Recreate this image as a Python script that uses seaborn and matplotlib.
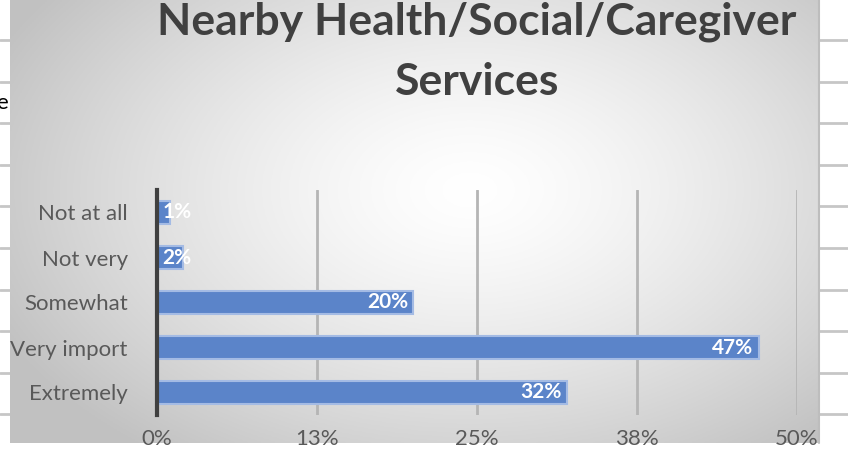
import numpy as np
import pandas as pd
import matplotlib
matplotlib.use("Agg")
import matplotlib.pyplot as plt
import seaborn as sns

# data
categories = ["Not at all", "Not very", "Somewhat", "Very import", "Extremely"]
values = [1, 2, 20, 47, 32]
tick_pos = [0, 12.5, 25, 37.5, 50]
tick_labels = ["0%", "13%", "25%", "38%", "50%"]
title = "Nearby Health/Social/Caregiver\nServices"

sns.set_theme(style="white")
plt.rcParams["font.family"] = ["Lato", "DejaVu Sans"]

W, H = 848, 450
fig = plt.figure(figsize=(W / 100, H / 100), dpi=100)

# spreadsheet behind the chart + gradient chart area
bg = fig.add_axes([0, 0, 1, 1])
bg.set_xlim(0, W)
bg.set_ylim(H, 0)
bg.axis("off")
for y in np.arange(40, 420, 41.6):
    bg.plot([0, W], [y, y], color="#c6c6c6", lw=2, zorder=0)
bg.text(8, 103, "e", ha="right", va="center", fontsize=16, color="black", zorder=0)

x0, x1, y0, y1 = 10, 819, 0, 443
gx, gy = np.meshgrid(np.linspace(x0, x1, 400), np.linspace(y0, y1, 220))
r = np.sqrt(((gx - 470) / 520) ** 2 + ((gy - 190) / 330) ** 2)
shade = 1 - 0.24 * np.clip(r, 0, 1) ** 1.4
bg.imshow(np.dstack([shade] * 3), extent=[x0, x1, y1, y0], aspect="auto", zorder=1)
bg.plot([x1, x1], [y0, y1], color="#bdbdbd", lw=1.5, zorder=2)

fig.text(477 / W, 1 - 52 / H, title, ha="center", va="center", fontsize=32,
         fontweight="bold", color="#404040", linespacing=1.6)

# chart
ax = fig.add_axes([157 / W, 1 - 415 / H, 640 / W, 225 / H])
ax.patch.set_alpha(0)
df = pd.DataFrame({"category": categories, "value": values})
sns.barplot(data=df, x="value", y="category", orient="h", color="#5b84c9",
            saturation=1, width=0.53, edgecolor="#a4bbe4", linewidth=1.5, ax=ax,
            zorder=3)
ax.set_xlim(0, 50)
ax.set_xticks(tick_pos)
ax.set_xticklabels(tick_labels)
ax.set_xlabel("")
ax.set_ylabel("")
ax.grid(axis="x", color="#b5b5b5", lw=2, zorder=0)
ax.set_axisbelow(True)
for s in ["top", "right", "bottom"]:
    ax.spines[s].set_visible(False)
ax.spines["left"].set_color("#404040")
ax.spines["left"].set_linewidth(3)
ax.spines["left"].set_zorder(5)
ax.tick_params(axis="both", length=0, labelsize=16, labelcolor="#595959")
ax.tick_params(axis="y", pad=21)
ax.tick_params(axis="x", pad=10)

for i, v in enumerate(values):
    if v < 5:
        ax.text(0.4, i, f"{v}%", ha="left", va="center", color="white",
                fontsize=15, fontweight="bold", zorder=6)
    else:
        ax.text(v - 0.4, i, f"{v}%", ha="right", va="center", color="white",
                fontsize=15, fontweight="bold", zorder=6)

fig.savefig("out.png", dpi=100)
